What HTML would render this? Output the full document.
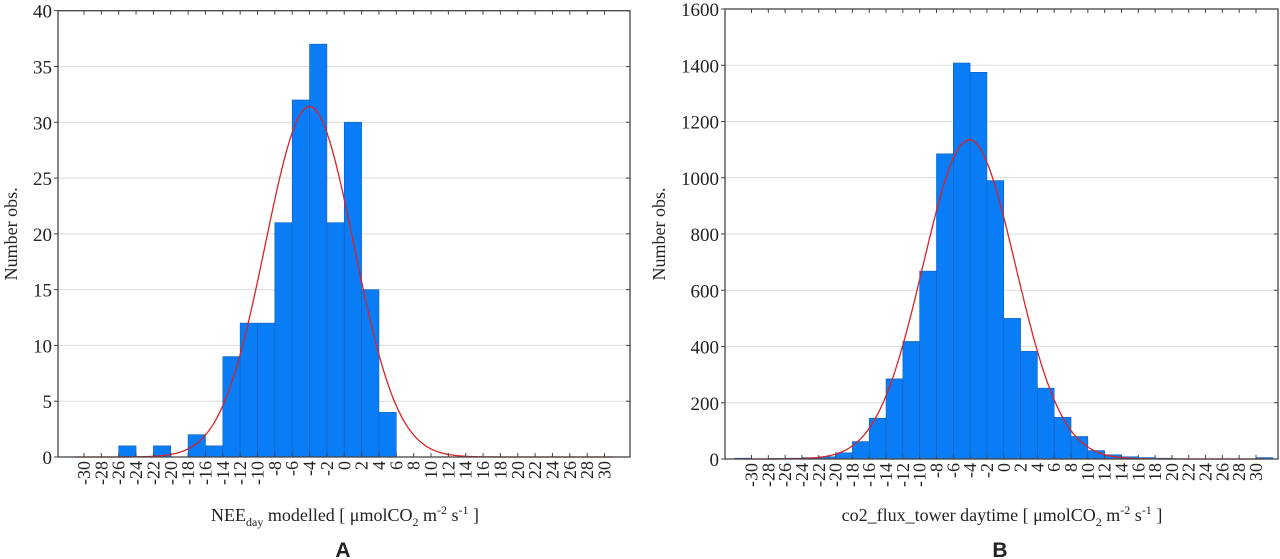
<!DOCTYPE html>
<html><head><meta charset="utf-8">
<style>
body{margin:0;background:#fff;width:1280px;height:559px;overflow:hidden}
svg{display:block}
text{font-family:"Liberation Serif",serif;fill:#222}
</style></head>
<body>
<svg id="chart" width="1280" height="559" viewBox="0 0 1280 559"></svg>
<script>
// Chart A data
const binStartsA = [-26,-24,-22,-20,-18,-16,-14,-12,-10,-8,-6,-4,-2,0,2,4];
const countsA    = [1,0,1,0,2,1,9,12,12,21,32,37,21,30,15,4];
const yTicksA    = [0,5,10,15,20,25,30,35,40];
const fitA       = {mean:-4.0, sd:5.1, peak:31.4};
// Chart B data
const binStartsB = [-32,-30,-28,-26,-24,-22,-20,-18,-16,-14,-12,-10,-8,-6,-4,-2,0,2,4,6,8,10,12,14,16,18,20,30];
const countsB    = [3,0,2,3,5,8,22,62,145,285,418,668,1085,1408,1375,990,500,383,252,148,80,30,15,8,5,3,1,5];
const yTicksB    = [0,200,400,600,800,1000,1200,1400,1600];
const fitB       = {mean:-4.1, sd:5.5, peak:1135};
const xTicks     = [-30,-28,-26,-24,-22,-20,-18,-16,-14,-12,-10,-8,-6,-4,-2,0,2,4,6,8,10,12,14,16,18,20,22,24,26,28,30];

const NS='http://www.w3.org/2000/svg';
const svg=document.getElementById('chart');
function mk(tag,attrs,parent){const e=document.createElementNS(NS,tag);for(const k in attrs)e.setAttribute(k,attrs[k]);(parent||svg).appendChild(e);return e;}

function drawChart(cfg){
  const g=mk('g',{});
  
  
  const X=v=>cfg.x0+(v-(-30))*(cfg.x1-cfg.x0)/60;
  const Y=v=>cfg.bottom-(v/cfg.ymax)*(cfg.bottom-cfg.top);
  cfg.yTicks.forEach(t=>{
    if(t>0&&t<cfg.ymax){const l=mk('line',{x1:cfg.left,x2:cfg.right,y1:Y(t),y2:Y(t),stroke:'#dcdcdc','stroke-width':1},g);
    }
  });
  cfg.bins.forEach((b,i)=>{
    const v=cfg.counts[i]; if(v<=0) return;
    const r=mk('rect',{x:X(b),y:Y(v),width:X(b+2)-X(b),height:cfg.bottom-Y(v),fill:'#0a7cf5',stroke:'#1060b8','stroke-width':0.6},g);
    
    
  });
  let d='';
  for(let v=-31;v<=31;v+=0.2){
    const y=cfg.fit.peak*Math.exp(-0.5*Math.pow((v-cfg.fit.mean)/cfg.fit.sd,2));
    d+=(d?'L':'M')+X(v).toFixed(2)+','+Y(y).toFixed(2);
  }
  const c=mk('path',{d:d,fill:'none',stroke:'#d8232a','stroke-width':1.3},g);
  
  
  const f=mk('rect',{x:cfg.left,y:cfg.top,width:cfg.right-cfg.left,height:cfg.bottom-cfg.top,fill:'none',stroke:'#444','stroke-width':1.3},g);
  
  
  cfg.yTicks.forEach(t=>{
    mk('line',{x1:cfg.left-4,x2:cfg.left,y1:Y(t),y2:Y(t),stroke:'#444'},g);
    mk('line',{x1:cfg.right-4,x2:cfg.right,y1:Y(t),y2:Y(t),stroke:'#444'},g);
    const tx=mk('text',{x:cfg.left-6,y:Y(t)+7,'text-anchor':'end','font-size':19},g);
    tx.textContent=t;
    
    
  });
  xTicks.forEach(t=>{
    mk('line',{x1:X(t),x2:X(t),y1:cfg.bottom,y2:cfg.bottom-4,stroke:'#444'},g);
    mk('line',{x1:X(t),x2:X(t),y1:cfg.top,y2:cfg.top+4,stroke:'#444'},g);
    const tx=mk('text',{x:0,y:0,'text-anchor':'end','font-size':18,transform:`translate(${X(t)+6},${cfg.bottom+4}) rotate(-90)`},g);
    tx.textContent=t;
    
    
  });
  const yt=mk('text',{x:0,y:0,'text-anchor':'middle','font-size':18,transform:`translate(${cfg.ytx},${(cfg.top+cfg.bottom)/2}) rotate(-90)`},g);
  yt.textContent='Number obs.';
  
  
  const xt=mk('text',{x:cfg.xtx,y:521,'text-anchor':'middle','font-size':18},g);
  xt.innerHTML=cfg.xtitle;
  
  
  const pl=mk('text',{x:cfg.xtx-2,y:557,'text-anchor':'middle','font-size':21,'font-weight':'bold',style:'font-family:"Liberation Sans",sans-serif'},g);
  pl.textContent=cfg.label;
  
  
}

drawChart({name:'chart-a',bins:binStartsA,counts:countsA,yTicks:yTicksA,fit:fitA,ymax:40,
  left:58,right:630,top:10.7,bottom:457,x0:84,x1:604.5,ytx:17,xtx:345,label:'A',
  xtitle:'NEE<tspan font-size="12" dy="5">day</tspan><tspan dy="-5"> modelled [ μmolCO</tspan><tspan font-size="12" dy="5">2</tspan><tspan dy="-5"> m</tspan><tspan font-size="12" dy="-7">-2</tspan><tspan dy="7"> s</tspan><tspan font-size="12" dy="-7">-1</tspan><tspan dy="7"> ]</tspan>'});
drawChart({name:'chart-b',bins:binStartsB,counts:countsB,yTicks:yTicksB,fit:fitB,ymax:1600,
  left:725,right:1278,top:9,bottom:459,x0:751.5,x1:1256,ytx:665,xtx:1002,label:'B',
  xtitle:'co2_flux_tower daytime [ μmolCO<tspan font-size="12" dy="5">2</tspan><tspan dy="-5"> m</tspan><tspan font-size="12" dy="-7">-2</tspan><tspan dy="7"> s</tspan><tspan font-size="12" dy="-7">-1</tspan><tspan dy="7"> ]</tspan>'});
</script>
</body></html>
